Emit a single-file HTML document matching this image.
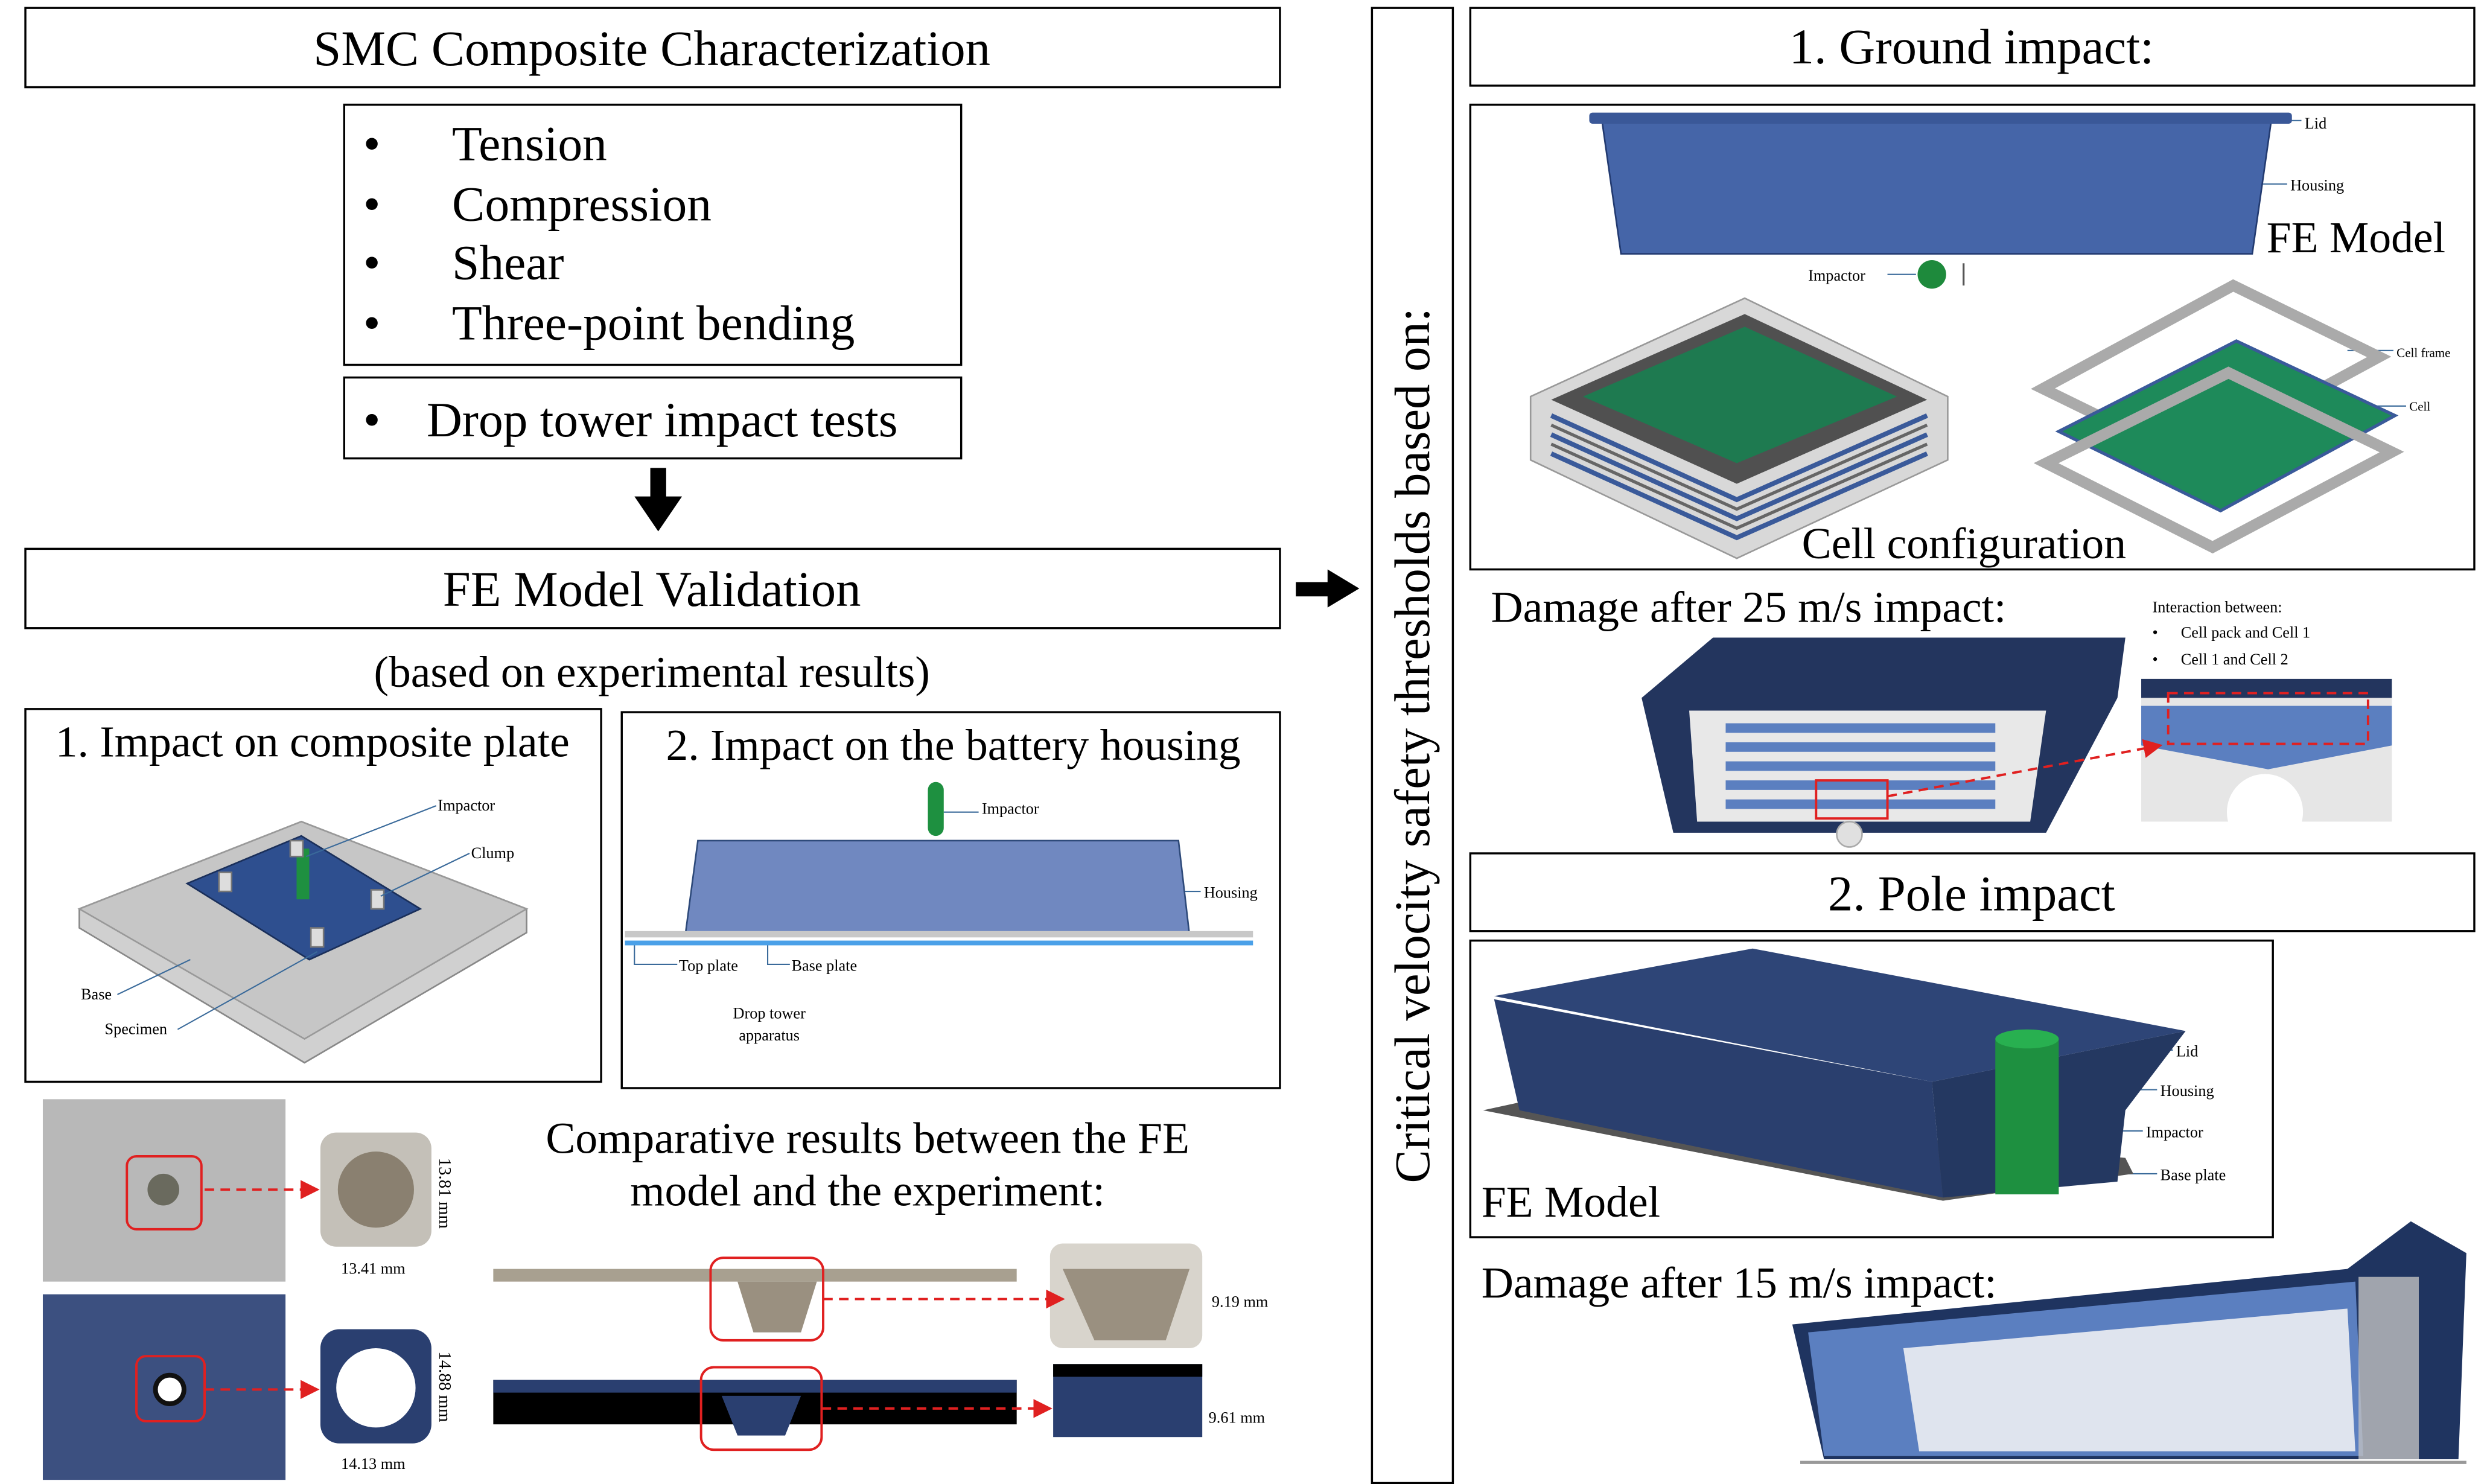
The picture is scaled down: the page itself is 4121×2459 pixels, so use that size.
<!DOCTYPE html>
<html><head><meta charset="utf-8"><style>
html,body{margin:0;padding:0;background:#fff}
svg{display:block}
text{font-family:"Liberation Serif",serif;fill:#000}
</style></head><body>
<svg width="4121" height="2459" viewBox="0 0 1568 935.6" preserveAspectRatio="none" xmlns="http://www.w3.org/2000/svg">
<defs>
<marker id="ra" markerWidth="8" markerHeight="8" refX="7" refY="4" orient="auto"><path d="M0,0 L8,4 L0,8z" fill="#e02020"/></marker>
</defs>
<g fill="none" stroke="#000" stroke-width="1.3">
<rect x="16" y="5" width="791" height="50"/>
<rect x="217" y="66" width="389" height="164"/>
<rect x="217" y="238" width="389" height="51"/>
<rect x="16" y="346" width="791" height="50"/>
<rect x="16" y="447" width="363" height="235"/>
<rect x="392" y="449" width="415" height="237"/>
<rect x="865" y="5" width="51" height="930"/>
<rect x="927" y="5" width="633" height="49"/>
<rect x="927" y="66" width="633" height="293"/>
<rect x="927" y="538" width="633" height="49"/>
<rect x="927" y="593" width="506" height="187"/>
</g>
<g font-size="31.5">
<text x="411" y="41" text-anchor="middle">SMC Composite Characterization</text>
<text x="411" y="382" text-anchor="middle">FE Model Validation</text>
<text x="1243" y="40" text-anchor="middle">1. Ground impact:</text>
<text x="1243" y="574" text-anchor="middle">2. Pole impact</text>
</g>
<g font-size="31">
<text x="229" y="101">•</text><text x="285" y="101">Tension</text>
<text x="229" y="139">•</text><text x="285" y="139">Compression</text>
<text x="229" y="176">•</text><text x="285" y="176">Shear</text>
<text x="229" y="214">•</text><text x="285" y="214">Three-point bending</text>
<text x="229" y="275">•</text><text x="269" y="275">Drop tower impact tests</text>
</g>
<g font-size="28">
<text x="411" y="433" text-anchor="middle">(based on experimental results)</text>
<text x="197" y="477" text-anchor="middle">1. Impact on composite plate</text>
<text x="601" y="479" text-anchor="middle">2. Impact on the battery housing</text>
<text x="547" y="727" text-anchor="middle">Comparative results between the FE</text>
<text x="547" y="760" text-anchor="middle">model and the experiment:</text>
<text x="940" y="392">Damage after 25 m/s impact:</text>
<text x="934" y="818">Damage after 15 m/s impact:</text>
<text x="1136" y="352">Cell configuration</text>
<text x="1429" y="159">FE Model</text>
<text x="934" y="767">FE Model</text>
</g>
<text font-size="31.5" transform="translate(901,470) rotate(-90)" text-anchor="middle">Critical velocity safety thresholds based on:</text>
<!-- arrows -->
<rect x="410" y="295" width="10" height="20" fill="#000"/><path d="M400,313 L430,313 L415,335z" fill="#000"/>
<rect x="817" y="367" width="22" height="9" fill="#000"/><path d="M837,359 L857,371 L837,383z" fill="#000"/>
<!-- composite plate -->
<path d="M50,573 L190,518 L332,573 L332,588 L192,670 L50,585z" fill="#d0d0d0" stroke="#888"/>
<path d="M50,573 L192,655 L332,573 L190,518z" fill="#c6c6c6" stroke="#999"/>
<path d="M118,557 L190,527 L265,573 L195,605z" fill="#2e4f8f" stroke="#1a2f5a"/>
<rect x="187" y="535" width="8" height="32" fill="#1e9040"/>
<g fill="#ddd" stroke="#777"><rect x="138" y="550" width="8" height="12"/><rect x="234" y="561" width="8" height="12"/><rect x="196" y="585" width="8" height="12"/><rect x="183" y="530" width="8" height="10"/></g>
<g stroke="#3a6a9a" stroke-width="0.8" fill="none">
<path d="M193,540 L275,508"/><path d="M240,565 L296,538"/><path d="M74,627 L120,605"/><path d="M112,649 L200,600"/>
<path d="M595,512 L617,512"/><path d="M724,562 L757,562"/><path d="M400,595 L400,608 L427,608"/><path d="M484,595 L484,608 L498,608"/>
<path d="M1437,76 L1451,76"/><path d="M1420,116 L1442,116"/><path d="M1190,173 L1208,173"/>
<path d="M1480,221 L1509,221"/><path d="M1495,256 L1517,256"/>
<path d="M1345,662 L1370,662"/><path d="M1337,687 L1360,687"/><path d="M1297,713 L1351,713"/><path d="M1320,740 L1360,740"/>
</g>
<line x1="1238" y1="180" x2="1238" y2="166" stroke="#555" stroke-width="1.2"/>
<line x1="1255" y1="703" x2="1237" y2="703" stroke="#fff" stroke-width="1.5"/>
<g font-size="10"><text x="276" y="511">Impactor</text><text x="297" y="541">Clump</text><text x="51" y="630">Base</text><text x="66" y="652">Specimen</text>
<text x="619" y="513">Impactor</text><text x="759" y="566">Housing</text><text x="428" y="612">Top plate</text><text x="499" y="612">Base plate</text><text x="485" y="642" text-anchor="middle">Drop tower</text><text x="485" y="656" text-anchor="middle">apparatus</text>
<text x="1453" y="81">Lid</text><text x="1444" y="120">Housing</text><text x="1140" y="177">Impactor</text>
<text x="1372" y="666">Lid</text><text x="1362" y="691">Housing</text><text x="1353" y="717">Impactor</text><text x="1362" y="744">Base plate</text>
<text x="1357" y="386">Interaction between:</text><text x="1357" y="402">•</text><text x="1375" y="402">Cell pack and Cell 1</text><text x="1357" y="419">•</text><text x="1375" y="419">Cell 1 and Cell 2</text>
<text x="215" y="803">13.41 mm</text><text x="215" y="926">14.13 mm</text><text x="764" y="824">9.19 mm</text><text x="762" y="897">9.61 mm</text></g>
<g font-size="8"><text x="1511" y="225">Cell frame</text><text x="1519" y="259">Cell</text></g>
<!-- housing box 2 -->
<rect x="585" y="493" width="10" height="34" rx="5" fill="#1e9040"/>
<path d="M440,530 L743,530 L750,590 L432,590z" fill="#7088c0" stroke="#2e4a7a"/>
<rect x="394" y="587" width="396" height="4" fill="#c8c8c8"/><rect x="394" y="593" width="396" height="3" fill="#4aa0e8"/>
<!-- ground impact FE -->
<path d="M1010,76 L1432,76 L1420,160 L1022,160z" fill="#4565a8" stroke="#223a70"/>
<rect x="1002" y="71" width="443" height="7" rx="2" fill="#3a5898"/>
<circle cx="1218" cy="173" r="9" fill="#1e8a3c"/>
<path d="M965,250 L1100,188 L1228,250 L1228,290 L1095,352 L965,290z" fill="#d8d8d8" stroke="#999"/>
<path d="M978,252 L1100,198 L1215,252 L1095,305z" fill="#505050"/>
<path d="M998,250 L1100,206 L1196,250 L1095,292z" fill="#1e7a50"/>
<g stroke="#3a5a9a" stroke-width="3" fill="none"><path d="M978,262 L1095,315 L1215,262"/><path d="M978,274 L1095,327 L1215,274"/><path d="M978,286 L1095,339 L1215,286"/></g>
<g stroke="#666" stroke-width="2" fill="none"><path d="M978,268 L1095,321 L1215,268"/><path d="M978,280 L1095,333 L1215,280"/></g>
<path d="M1288,245 L1408,180 L1500,225 L1380,290z" fill="none" stroke="#aaa" stroke-width="7"/>
<path d="M1298,272 L1410,215 L1510,262 L1400,322z" fill="#1e8a5a" stroke="#3a5a9a" stroke-width="2"/>
<path d="M1290,292 L1405,235 L1508,285 L1395,345z" fill="none" stroke="#aaa" stroke-width="7"/>
<!-- damage 25 -->
<path d="M1035,440 L1080,402 L1340,402 L1335,440 L1290,525 L1055,525z" fill="#23355e"/>
<path d="M1065,448 L1290,448 L1280,518 L1070,518z" fill="#e8e8e8"/>
<g fill="#5b7fc0"><rect x="1088" y="456" width="170" height="6"/><rect x="1088" y="468" width="170" height="6"/><rect x="1088" y="480" width="170" height="6"/><rect x="1088" y="492" width="170" height="6"/><rect x="1088" y="504" width="170" height="6"/></g>
<circle cx="1166" cy="526" r="8" fill="#e0e0e0" stroke="#aaa"/>
<rect x="1145" y="492" width="45" height="24" fill="none" stroke="#e02020" stroke-width="1.5"/>
<rect x="1350" y="428" width="158" height="90" fill="#e6e6e6"/>
<path d="M1350,445 L1508,445 L1508,470 L1430,485 L1350,470z" fill="#5b7fc0"/>
<rect x="1350" y="428" width="158" height="12" fill="#23355e"/>
<ellipse cx="1428" cy="512" rx="24" ry="24" fill="#fff"/>
<rect x="1367" y="437" width="126" height="32" fill="none" stroke="#e02020" stroke-width="1.5" stroke-dasharray="6,4"/>
<line x1="1190" y1="502" x2="1362" y2="470" stroke="#e02020" stroke-width="1.5" stroke-dasharray="6,4" marker-end="url(#ra)"/>
<!-- pole impact -->
<path d="M935,700 L1225,757 L1345,740 L1340,730 L958,695z" fill="#555"/>
<path d="M942,630 L958,700 L1225,755 L1218,682z" fill="#2a3f6e"/>
<path d="M1218,682 L1378,650 L1340,700 L1335,745 L1225,755z" fill="#243861"/>
<path d="M942,628 L1105,598 L1378,650 L1218,682z" fill="#2e4577"/>
<rect x="1258" y="655" width="40" height="98" fill="#1e9040"/>
<ellipse cx="1278" cy="655" rx="20" ry="6" fill="#28b050"/>
<!-- damage 15 -->
<path d="M1130,835 L1480,800 L1520,770 L1555,790 L1550,920 L1150,920z" fill="#1f3460"/>
<path d="M1140,840 L1485,808 L1490,918 L1150,918z" fill="#5b7fc0"/>
<path d="M1200,850 L1480,825 L1485,915 L1210,915z" fill="#dfe4ee"/>
<rect x="1487" y="805" width="38" height="115" fill="#c0c0c0" opacity=".8"/>
<line x1="1135" y1="922" x2="1555" y2="922" stroke="#999" stroke-width="2"/>
<!-- photos -->
<rect x="27" y="693" width="153" height="115" fill="#b8b8b8"/>
<circle cx="103" cy="750" r="10" fill="#6a6a5e"/>
<rect x="80" y="729" width="47" height="46" rx="6" fill="none" stroke="#e02020" stroke-width="1.5"/>
<rect x="202" y="714" width="70" height="72" rx="10" fill="#c4c0b8"/><circle cx="237" cy="750" r="24" fill="#8a8070"/>
<rect x="27" y="816" width="153" height="117" fill="#3c5080"/>
<circle cx="107" cy="876" r="9" fill="#fff" stroke="#111" stroke-width="3"/>
<rect x="86" y="855" width="43" height="41" rx="6" fill="none" stroke="#e02020" stroke-width="1.5"/>
<rect x="202" y="838" width="70" height="72" rx="12" fill="#2a3f70"/><circle cx="237" cy="875" r="25" fill="#fff"/>
<line x1="129" y1="750" x2="200" y2="750" stroke="#e02020" stroke-width="1.5" stroke-dasharray="6,4" marker-end="url(#ra)"/>
<line x1="129" y1="876" x2="200" y2="876" stroke="#e02020" stroke-width="1.5" stroke-dasharray="6,4" marker-end="url(#ra)"/>
<rect x="311" y="800" width="330" height="8" fill="#a8a090"/>
<path d="M465,808 L515,808 L505,840 L475,840z" fill="#9a9080"/>
<rect x="448" y="793" width="71" height="52" rx="8" fill="none" stroke="#e02020" stroke-width="1.5"/>
<rect x="662" y="784" width="96" height="66" rx="8" fill="#d8d4cc"/><path d="M670,800 L750,800 L735,845 L690,845z" fill="#9a9080"/>
<rect x="311" y="870" width="330" height="28" fill="#000"/><rect x="311" y="870" width="330" height="8" fill="#2a3f70"/>
<path d="M455,880 L505,880 L495,905 L465,905z" fill="#2a3f70"/>
<rect x="442" y="862" width="76" height="52" rx="8" fill="none" stroke="#e02020" stroke-width="1.5"/>
<rect x="664" y="860" width="94" height="46" fill="#2a3f70"/><rect x="664" y="860" width="94" height="8" fill="#000"/>
<line x1="519" y1="819" x2="670" y2="819" stroke="#e02020" stroke-width="1.5" stroke-dasharray="6,4" marker-end="url(#ra)"/>
<line x1="518" y1="888" x2="662" y2="888" stroke="#e02020" stroke-width="1.5" stroke-dasharray="6,4" marker-end="url(#ra)"/>
<text font-size="11" transform="translate(277,730) rotate(90)">13.81 mm</text>
<text font-size="11" transform="translate(277,852) rotate(90)">14.88 mm</text>
</svg>
</body></html>
